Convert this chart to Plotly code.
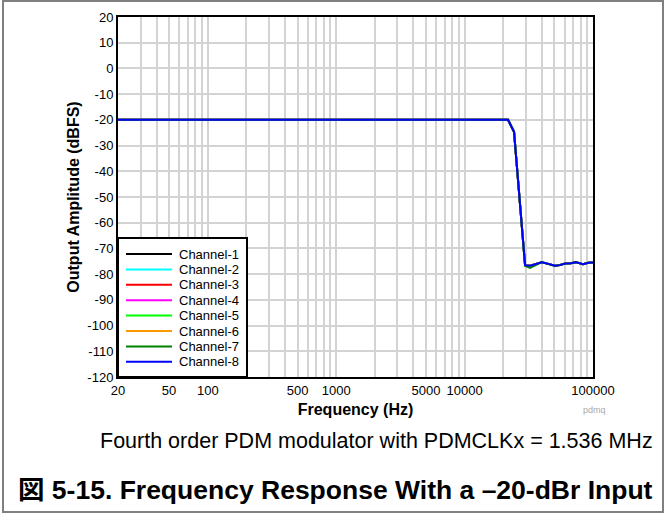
import plotly.graph_objects as go

# ---- data ----
freq_hz = [20, 100, 1000, 10000, 20000, 21800, 24270, 29580, 32340, 36000, 39900,
           45000, 50600, 55000, 60500, 67000, 73800, 83600, 92000, 100000]
amp_common = [-20, -20, -20, -20, -20, -20, -24.6, -76.5, -76.7, -76.0, -75.4,
              -76.0, -76.7, -76.5, -75.9, -75.8, -75.4, -76.1, -75.6, -75.5]
amp_ch7 = [-20, -20, -20, -20, -20, -20, -24.6, -76.8, -77.6, -76.3, -75.3,
           -76.1, -76.8, -76.5, -76.0, -75.8, -75.3, -76.1, -75.6, -75.5]

channels = ["Channel-1", "Channel-2", "Channel-3", "Channel-4",
            "Channel-5", "Channel-6", "Channel-7", "Channel-8"]
colors = ["#000000", "#00FFFF", "#FF0000", "#FF00FF",
          "#00FF00", "#FF9900", "#008000", "#0000FF"]

x_labels = {20: "20", 50: "50", 100: "100", 500: "500", 1000: "1000",
            5000: "5000", 10000: "10000", 100000: "100000"}
y_ticks = list(range(20, -121, -10))
y_tick_text = [str(v) for v in y_ticks]

FONT = "Arial, 'Liberation Sans', 'Noto Sans CJK JP', sans-serif"

fig = go.Figure()
for name, col in zip(channels, colors):
    y = amp_ch7 if name == "Channel-7" else amp_common
    fig.add_trace(go.Scatter(x=freq_hz, y=y, mode="lines", name=name,
                             line=dict(color=col, width=2), showlegend=False))

# grid ticks at every 1..9 x decade, labels only on some
grid_vals = []
for dec in [10, 100, 1000, 10000]:
    for m in range(1, 10):
        v = m * dec
        if 20 <= v <= 100000:
            grid_vals.append(v)
grid_vals.append(100000)
grid_text = [x_labels.get(v, "") for v in grid_vals]

fig.update_layout(
    width=665, height=516,
    margin=dict(l=118, r=72, t=17, b=139, autoexpand=False),
    paper_bgcolor="white", plot_bgcolor="white",
    font=dict(family=FONT, size=13, color="black"),
    showlegend=False,
    xaxis=dict(type="log", range=[1.30103, 5], tickmode="array",
               tickvals=grid_vals, ticktext=grid_text, ticks="",
               showgrid=True, gridcolor="#d3d3d3", gridwidth=1.5,
               showline=True, linecolor="black", linewidth=2, mirror=True,
               zeroline=False, automargin=False,
               title=dict(text="<b>Frequency (Hz)</b>", font=dict(size=16), standoff=7)),
    yaxis=dict(range=[-120, 20], tickmode="array", tickvals=y_ticks,
               ticktext=y_tick_text,
               ticks="", showgrid=True, gridcolor="#d3d3d3", gridwidth=1.5,
               showline=True, linecolor="black", linewidth=2, mirror=True,
               zeroline=False, automargin=False,
               title=dict(text="<b>Output Amplitude (dBFS)</b>", font=dict(size=16), standoff=4)),
)

def px_x(px):
    return (px - 118) / 475.0

def px_y(py):
    return (377 - py) / 360.0

# manual legend (compact rows like the reference)
fig.add_shape(type="rect", xref="paper", yref="paper",
              x0=px_x(118), x1=px_x(247), y0=px_y(377), y1=px_y(238),
              fillcolor="white", line=dict(color="black", width=2), layer="above")
for i, (name, col) in enumerate(zip(channels, colors)):
    yy = px_y(254 + i * 15.4)
    fig.add_shape(type="line", xref="paper", yref="paper",
                  x0=px_x(126), x1=px_x(172), y0=yy, y1=yy,
                  line=dict(color=col, width=2), layer="above")
    fig.add_annotation(xref="paper", yref="paper", x=px_x(177), y=yy,
                       xanchor="left", yanchor="middle", showarrow=False,
                       text=name, font=dict(size=13, color="black"))

fig.add_annotation(xref="paper", yref="paper", x=px_x(655), y=px_y(441),
                   xanchor="right", yanchor="middle", showarrow=False,
                   text="Fourth order PDM modulator with PDMCLKx = 1.536 MHz",
                   font=dict(size=21.5, color="black"))
fig.add_annotation(xref="paper", yref="paper", x=px_x(655), y=px_y(490),
                   xanchor="right", yanchor="middle", showarrow=False,
                   text="<b>図 5-15. Frequency Response With a –20-dBr Input</b>",
                   font=dict(size=26.5, color="black"))
fig.add_annotation(xref="paper", yref="paper", x=px_x(594), y=px_y(410),
                   xanchor="center", yanchor="middle", showarrow=False,
                   text="pdmq", font=dict(size=9, color="#aaaaaa"))

fig.add_shape(type="rect", xref="paper", yref="paper",
              x0=px_x(3), x1=px_x(663), y0=px_y(512), y1=px_y(1),
              line=dict(color="#808080", width=2), layer="below")

fig.write_html("out.html", config={"displayModeBar": False},
               post_script="document.body.style.margin='0';document.body.style.padding='0';"
                           "document.documentElement.style.margin='0';")
